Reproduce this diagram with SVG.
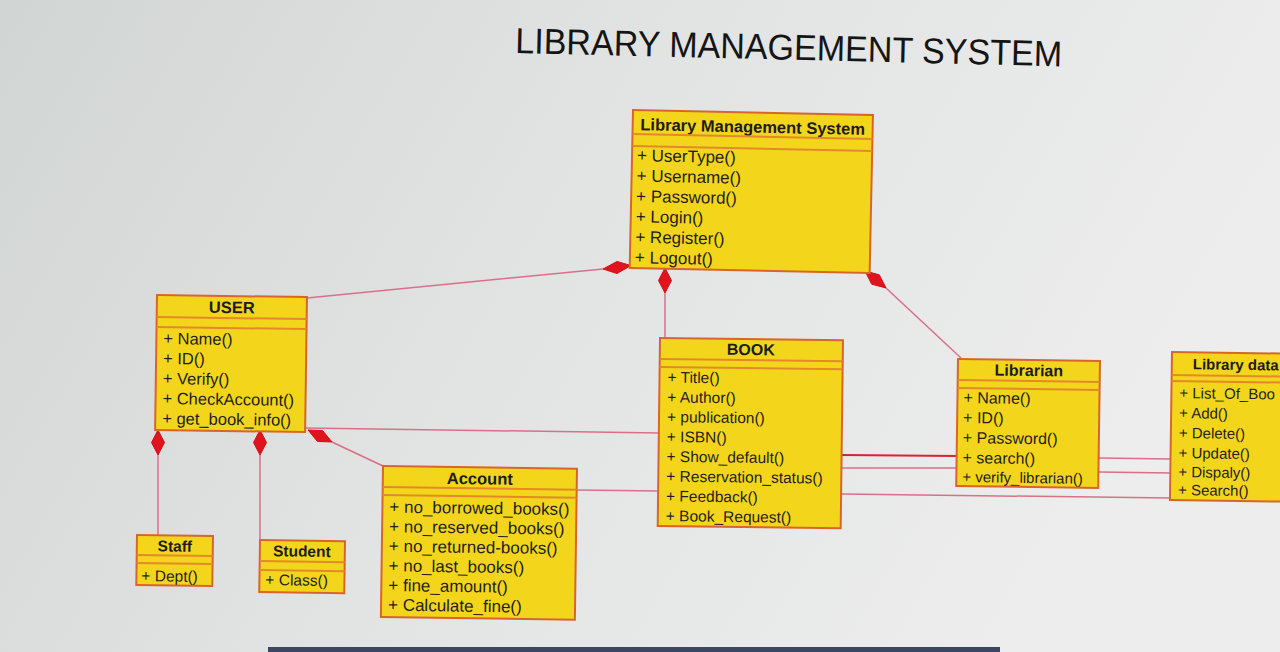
<svg xmlns="http://www.w3.org/2000/svg" width="1280" height="652" viewBox="0 0 1280 652">
<defs>
<linearGradient id="bg" x1="0" y1="0" x2="1" y2="0.3">
<stop offset="0" stop-color="#d1d5d4"/>
<stop offset="0.5" stop-color="#e2e4e3"/>
<stop offset="1" stop-color="#ecedec"/>
</linearGradient>
<style>
.box{fill:#F3D61C;stroke:#D8652B;stroke-width:2}
.sep{stroke:#E3892A;stroke-width:2}
.hd{font-family:"Liberation Sans",Arial,sans-serif;font-weight:bold;fill:#1c1c1c;text-anchor:middle}
.m{font-family:"Liberation Sans",Arial,sans-serif;fill:#1e1e1e}
.conn{stroke:#D8708A;stroke-width:1.5;fill:none}
.dia{fill:#E0141E;stroke:#D01018;stroke-width:1}
.title{font-family:"Liberation Sans",Arial,sans-serif;fill:#151515}
</style>
</defs>
<rect x="0" y="0" width="1280" height="652" fill="url(#bg)"/>
<rect x="268" y="647" width="732" height="5" fill="#3a4763"/>

<text class="title" x="515" y="53" font-size="36" textLength="547" lengthAdjust="spacingAndGlyphs" transform="rotate(1.4 515 53)">LIBRARY MANAGEMENT SYSTEM</text>

<g id="connectors">
<line class="conn" x1="307" y1="298" x2="603" y2="269"/>
<polygon class="dia" points="603,269 617,261.5 631,265.5 617,273.5"/>
<line class="conn" x1="665" y1="293" x2="665" y2="338"/>
<polygon class="dia" points="665,268 671.5,280.5 665,293 658.5,280.5"/>
<line class="conn" x1="886" y1="288" x2="961" y2="358"/>
<polygon class="dia" points="865,271 879.3,274.8 886,288 871.7,284.2"/>
<line class="conn" x1="158" y1="455" x2="158" y2="535"/>
<polygon class="dia" points="158,430 164.5,442.5 158,455 151.5,442.5"/>
<line class="conn" x1="260" y1="455" x2="260" y2="540"/>
<polygon class="dia" points="260,430 266.5,442.5 260,455 253.5,442.5"/>
<line class="conn" x1="332" y1="442" x2="383" y2="466"/>
<polygon class="dia" points="308,430 322.6,430.6 332,442 317.4,441.4"/>
<line class="conn" x1="306" y1="428" x2="660" y2="433"/>
<line class="conn" x1="577" y1="490" x2="660" y2="491"/>
<line class="conn" x1="842" y1="455" x2="958" y2="456" style="stroke:#D62430;stroke-width:2.2"/>
<line class="conn" x1="842" y1="468" x2="958" y2="468"/>
<line class="conn" x1="1099" y1="458" x2="1172" y2="459"/>
<line class="conn" x1="1099" y1="472" x2="1172" y2="473"/>
<line class="conn" x1="842" y1="494" x2="1172" y2="498"/>
</g>

<g id="lms" transform="rotate(1.2 633 110)">
<rect class="box" x="633" y="110" width="240" height="158"/>
<text class="hd" x="753" y="130" font-size="16.5">Library Management System</text>
<line class="sep" x1="633" y1="134" x2="873" y2="134"/>
<line class="sep" x1="633" y1="146" x2="873" y2="146"/>
<g class="m" font-size="17">
<text x="638" y="161">+ UserType()</text>
<text x="638" y="181.4">+ Username()</text>
<text x="638" y="201.8">+ Password()</text>
<text x="638" y="222.2">+ Login()</text>
<text x="638" y="242.6">+ Register()</text>
<text x="638" y="263">+ Logout()</text>
</g>
</g>

<g id="user" transform="rotate(0.8 157 295)">
<rect class="box" x="157" y="295" width="150" height="135"/>
<text class="hd" x="232" y="312" font-size="16.5">USER</text>
<line class="sep" x1="157" y1="317" x2="307" y2="317"/>
<line class="sep" x1="157" y1="327" x2="307" y2="327"/>
<g class="m" font-size="16.5">
<text x="164" y="344">+ Name()</text>
<text x="164" y="364">+ ID()</text>
<text x="164" y="384">+ Verify()</text>
<text x="164" y="404">+ CheckAccount()</text>
<text x="164" y="424">+ get_book_info()</text>
</g>
</g>

<g id="book" transform="rotate(0.7 660 338)">
<rect class="box" x="660" y="338" width="183" height="188"/>
<text class="hd" x="751" y="354" font-size="16">BOOK</text>
<line class="sep" x1="660" y1="359" x2="843" y2="359"/>
<line class="sep" x1="660" y1="367" x2="843" y2="367"/>
<g class="m" font-size="15.5">
<text x="668" y="382.5">+ Title()</text>
<text x="668" y="402.3">+ Author()</text>
<text x="668" y="422.1">+ publication()</text>
<text x="668" y="441.9">+ ISBN()</text>
<text x="668" y="461.7">+ Show_default()</text>
<text x="668" y="481.5">+ Reservation_status()</text>
<text x="668" y="501.3">+ Feedback()</text>
<text x="668" y="521.1">+ Book_Request()</text>
</g>
</g>

<g id="librarian" transform="rotate(0.8 958 359)">
<rect class="box" x="958" y="359" width="142" height="127"/>
<text class="hd" x="1029" y="375" font-size="16">Librarian</text>
<line class="sep" x1="958" y1="380" x2="1100" y2="380"/>
<line class="sep" x1="958" y1="388" x2="1100" y2="388"/>
<g class="m" font-size="16">
<text x="964" y="403">+ Name()</text>
<text x="964" y="423">+ ID()</text>
<text x="964" y="443">+ Password()</text>
<text x="964" y="463">+ search()</text>
<text x="964" y="482" font-size="15">+ verify_librarian()</text>
</g>
</g>

<g id="librarydata" transform="rotate(0.8 1172 352)">
<rect class="box" x="1172" y="352" width="140" height="148"/>
<text class="hd" x="1193" y="369" font-size="15" style="text-anchor:start">Library data</text>
<line class="sep" x1="1172" y1="375" x2="1312" y2="375"/>
<line class="sep" x1="1172" y1="381" x2="1312" y2="381"/>
<g class="m" font-size="15">
<text x="1180" y="398">+ List_Of_Boo</text>
<text x="1180" y="418">+ Add()</text>
<text x="1180" y="438">+ Delete()</text>
<text x="1180" y="458">+ Update()</text>
<text x="1180" y="477">+ Dispaly()</text>
<text x="1180" y="495">+ Search()</text>
</g>
</g>

<g id="account" transform="rotate(0.8 383 466)">
<rect class="box" x="383" y="466" width="194" height="151"/>
<text class="hd" x="480" y="483" font-size="16.5">Account</text>
<line class="sep" x1="383" y1="487" x2="577" y2="487"/>
<line class="sep" x1="383" y1="495" x2="577" y2="495"/>
<g class="m" font-size="17">
<text x="390" y="512.5">+ no_borrowed_books()</text>
<text x="390" y="532.1">+ no_reserved_books()</text>
<text x="390" y="551.7">+ no_returned-books()</text>
<text x="390" y="571.3">+ no_last_books()</text>
<text x="390" y="590.9">+ fine_amount()</text>
<text x="390" y="610.5">+ Calculate_fine()</text>
</g>
</g>

<g id="staff" transform="rotate(0.8 137 535)">
<rect class="box" x="137" y="535" width="76" height="50"/>
<text class="hd" x="175" y="551" font-size="15.5">Staff</text>
<line class="sep" x1="137" y1="555" x2="213" y2="555"/>
<line class="sep" x1="137" y1="563" x2="213" y2="563"/>
<text class="m" x="142" y="581" font-size="15.5">+ Dept()</text>
</g>

<g id="student" transform="rotate(0.8 260 540)">
<rect class="box" x="260" y="540" width="85" height="52"/>
<text class="hd" x="302" y="556" font-size="15.5">Student</text>
<line class="sep" x1="260" y1="561" x2="345" y2="561"/>
<line class="sep" x1="260" y1="570" x2="345" y2="570"/>
<text class="m" x="266" y="585" font-size="15.5">+ Class()</text>
</g>
</svg>
